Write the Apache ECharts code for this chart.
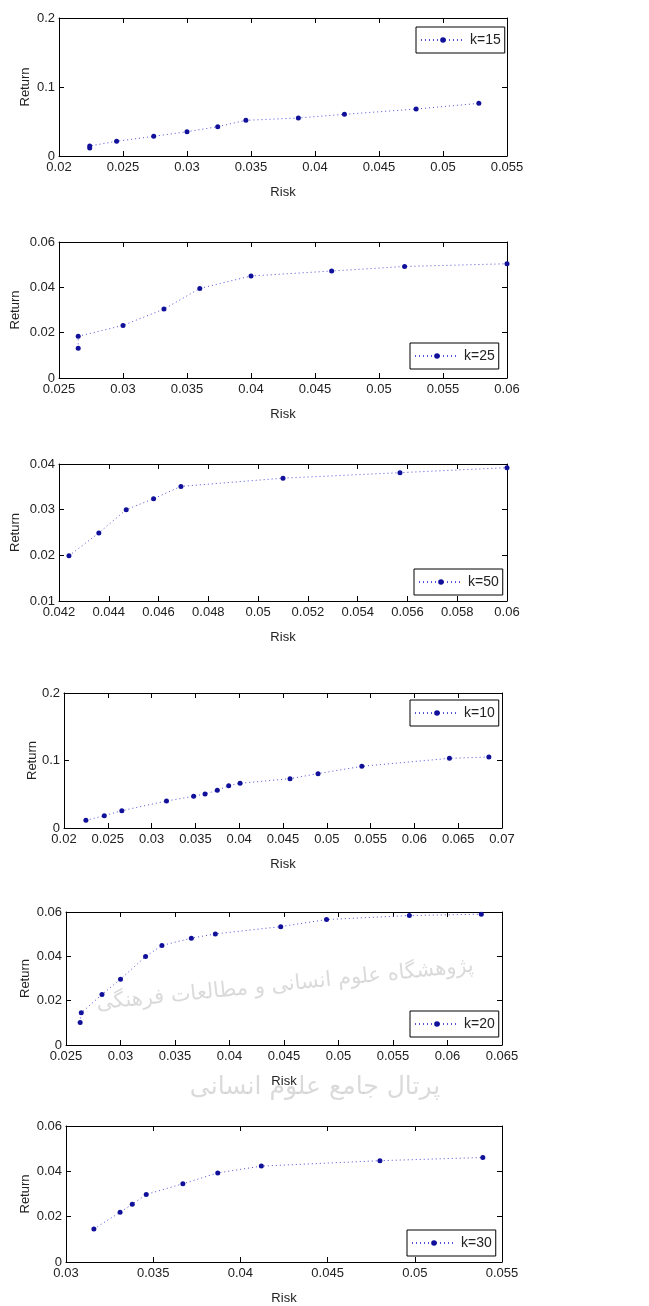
<!DOCTYPE html>
<html>
<head>
<meta charset="utf-8">
<title>Risk / Return</title>
<script src="https://cdn.jsdelivr.net/npm/echarts@6/dist/echarts.min.js"></script>
<style>
  html, body { margin: 0; padding: 0; background: #fff; }
  #chart { width: 649px; height: 1306px; }
</style>
</head>
<body>
<div id="chart"></div>
<script>
// data
const risk15 = [0.0224, 0.0224, 0.0245, 0.0274, 0.0300, 0.0324, 0.0346, 0.0387, 0.0423, 0.0479, 0.0528];
const ret15 = [0.0115, 0.0145, 0.0213, 0.0285, 0.0352, 0.0425, 0.0517, 0.0551, 0.0604, 0.0681, 0.0763];

const risk25 = [0.0265, 0.0265, 0.0300, 0.0332, 0.0360, 0.0400, 0.0463, 0.0520, 0.0600];
const ret25 = [0.0131, 0.0184, 0.0232, 0.0304, 0.0395, 0.0450, 0.0472, 0.0492, 0.0504];

const risk50 = [0.0424, 0.0436, 0.0447, 0.0458, 0.0469, 0.0510, 0.0557, 0.0600];
const ret50 = [0.0199, 0.0249, 0.0300, 0.0324, 0.0351, 0.0369, 0.0381, 0.0392];

const risk10 = [0.0225, 0.0246, 0.0266, 0.0317, 0.0348, 0.0361, 0.0375, 0.0388, 0.0401, 0.0458, 0.0490, 0.0540, 0.0640, 0.0685];
const ret10 = [0.0114, 0.0183, 0.0257, 0.0400, 0.0470, 0.0504, 0.0558, 0.0627, 0.0662, 0.0731, 0.0805, 0.0914, 0.1032, 0.1052];

const risk20 = [0.0263, 0.0264, 0.0283, 0.0300, 0.0323, 0.0338, 0.0365, 0.0387, 0.0447, 0.0489, 0.0565, 0.0631];
const ret20 = [0.0102, 0.0145, 0.0228, 0.0297, 0.0399, 0.0449, 0.0482, 0.0501, 0.0534, 0.0566, 0.0584, 0.0590];

const risk30 = [0.0316, 0.0331, 0.0338, 0.0346, 0.0367, 0.0387, 0.0412, 0.0480, 0.0539];
const ret30 = [0.0146, 0.0219, 0.0255, 0.0298, 0.0345, 0.0393, 0.0423, 0.0447, 0.0461];

// axis ranges: [min, max, interval]
const xRanges = [[0.02, 0.055, 0.005], [0.025, 0.06, 0.005], [0.042, 0.06, 0.002], [0.02, 0.07, 0.005], [0.025, 0.065, 0.005], [0.03, 0.055, 0.005]];
const yRanges = [[0, 0.2, 0.1], [0, 0.06, 0.02], [0.01, 0.04, 0.01], [0, 0.2, 0.1], [0, 0.06, 0.02], [0, 0.06, 0.02]];
const names = ["k=15", "k=25", "k=50", "k=10", "k=20", "k=30"];
const riskData = [risk15, risk25, risk50, risk10, risk20, risk30];
const retData = [ret15, ret25, ret50, ret10, ret20, ret30];

// layout of each panel
const panels = [
  { left: 59, top: 18, width: 448, height: 138, yGap: 27, legend: [416, 27] },
  { left: 59, top: 242, width: 448, height: 136, yGap: 37, legend: [410, 343] },
  { left: 59, top: 464, width: 448, height: 137, yGap: 37, legend: [414, 569] },
  { left: 64, top: 693, width: 438, height: 135, yGap: 25, legend: [410, 700] },
  { left: 66, top: 912, width: 436, height: 133, yGap: 34, legend: [410, 1011] },
  { left: 66, top: 1126, width: 436, height: 137, yGap: 34, legend: [407, 1230] },
];

const font = "'Liberation Sans', Arial, sans-serif";
const textColor = "#222";

const chart = echarts.init(document.getElementById("chart"));

const grid = [], xAxis = [], yAxis = [], series = [], legend = [];

panels.forEach((p, i) => {
  grid.push({ left: p.left, top: p.top, width: p.width, height: p.height, containLabel: false });

  const tick = { show: true, inside: true, length: 5, lineStyle: { color: "#000" } };
  const line = { show: true, onZero: false, lineStyle: { color: "#000", width: 1 } };

  xAxis.push({
    type: "value", gridIndex: i, position: "bottom",
    min: xRanges[i][0], max: xRanges[i][1], interval: xRanges[i][2],
    name: "Risk", nameLocation: "middle", nameGap: 30, nameMoveOverlap: false,
    nameTextStyle: { color: textColor, fontFamily: font, fontSize: 13 },
    axisLine: line, axisTick: tick, splitLine: { show: false },
    axisLabel: { color: textColor, fontFamily: font, fontSize: 13, margin: 5, showMinLabel: true, showMaxLabel: true },
  });
  xAxis.push({
    type: "value", gridIndex: i, position: "top",
    min: xRanges[i][0], max: xRanges[i][1], interval: xRanges[i][2],
    axisLine: line, axisTick: tick, splitLine: { show: false }, axisLabel: { show: false },
  });

  yAxis.push({
    type: "value", gridIndex: i, position: "left",
    min: yRanges[i][0], max: yRanges[i][1], interval: yRanges[i][2],
    name: "Return", nameLocation: "middle", nameGap: p.yGap, nameMoveOverlap: false,
    nameTextStyle: { color: textColor, fontFamily: font, fontSize: 13 },
    axisLine: line, axisTick: tick, splitLine: { show: false },
    axisLabel: { color: textColor, fontFamily: font, fontSize: 13, margin: 4 },
  });
  yAxis.push({
    type: "value", gridIndex: i, position: "right",
    min: yRanges[i][0], max: yRanges[i][1], interval: yRanges[i][2],
    axisLine: line, axisTick: tick, splitLine: { show: false }, axisLabel: { show: false },
  });

  series.push({
    name: names[i],
    type: "line",
    xAxisIndex: 2 * i,
    yAxisIndex: 2 * i,
    symbol: "circle",
    symbolSize: 5,
    itemStyle: { color: "#10109a" },
    lineStyle: { color: "#5050d8", width: 1, type: [1, 3] },
    data: riskData[i].map((r, j) => [r, retData[i][j]]),
  });

  legend.push({
    data: [names[i]],
    left: p.legend[0], top: p.legend[1],
    orient: "horizontal",
    itemWidth: 44, itemHeight: 7,
    padding: [6, 4, 6, 4],
    borderColor: "#000", borderWidth: 1,
    backgroundColor: "#fff",
    textStyle: { color: textColor, fontFamily: font, fontSize: 14 },
    selectedMode: false,
  });
});

const option = {
  animation: false,
  backgroundColor: "#fff",
  graphic: [
    {
      type: "text", x: 285, y: 985, rotation: 0.1, z: -1,
      style: {
        text: "پژوهشگاه علوم انسانی و مطالعات فرهنگی",
        fill: "rgba(150,150,150,0.35)", font: "21px 'DejaVu Sans'",
        textAlign: "center", textVerticalAlign: "middle",
      },
    },
    {
      type: "text", x: 315, y: 1087, z: -1,
      style: {
        text: "پرتال جامع علوم انسانی",
        fill: "rgba(150,150,150,0.35)", font: "25px 'DejaVu Sans'",
        textAlign: "center", textVerticalAlign: "middle",
      },
    },
  ],
  grid: grid,
  xAxis: xAxis,
  yAxis: yAxis,
  legend: legend,
  series: series,
};
chart.setOption(option);
</script>
</body>
</html>
